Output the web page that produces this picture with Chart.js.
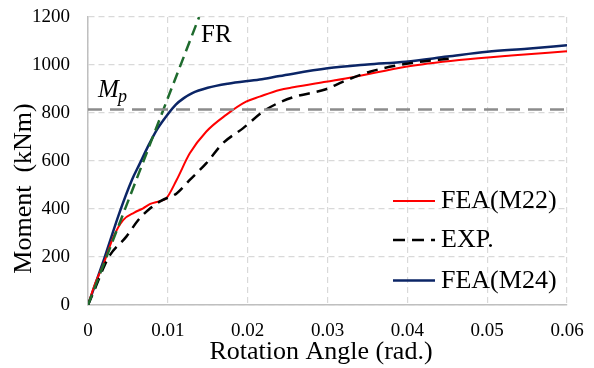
<!DOCTYPE html>
<html>
<head>
<meta charset="utf-8">
<script src="https://cdn.jsdelivr.net/npm/chart.js@4.4.1/dist/chart.umd.min.js"></script>
<style>
  html, body { margin: 0; padding: 0; background: #fff; }
  #wrap { width: 594px; height: 368px; }
</style>
</head>
<body>
<div id="wrap"><canvas id="momentChart" width="594" height="368"></canvas></div>
<script>
// FEA (M22)
const m22Rot    = [0, 0.0009, 0.0019, 0.0032, 0.0044, 0.0058, 0.0069, 0.0078, 0.009, 0.0098, 0.0111, 0.01275, 0.0148, 0.0173, 0.0198, 0.0215, 0.024, 0.0257, 0.0298, 0.0332, 0.0398, 0.0465, 0.053, 0.06];
const m22Moment = [0, 90, 167, 285, 354, 385, 403, 421, 433, 444, 521, 632, 722, 792, 847, 868, 896, 907, 930, 949, 993, 1021, 1040, 1057];

// EXP.
const expRot    = [0, 0.0009, 0.0021, 0.00275, 0.0048, 0.0063, 0.0078, 0.0092, 0.0111, 0.01275, 0.0148, 0.0169, 0.0194, 0.0219, 0.0236, 0.0257, 0.0298, 0.0319, 0.0353, 0.0403, 0.0457];
const expMoment = [0, 70, 167, 208, 285, 354, 403, 435, 465, 521, 590, 674, 736, 805, 838, 866, 899, 930, 972, 1007, 1028];

// FEA (M24)
const m24Rot    = [0, 0.002, 0.004, 0.0055, 0.0065, 0.0075, 0.0086, 0.01, 0.011, 0.012, 0.013, 0.015, 0.0175, 0.0215, 0.024, 0.03, 0.035, 0.0398, 0.045, 0.05, 0.055, 0.06];
const m24Moment = [0, 190, 390, 521, 590, 660, 729, 795, 835, 862, 882, 905, 922, 940, 954, 986, 1002, 1014, 1035, 1055, 1068, 1082];

// FR boundary and plastic moment
const frRot    = [0, 0.01392];
const frMoment = [0, 1200];
const mpRot    = [0, 0.06];
const mpMoment = [815, 815];

const pts = (xs, ys) => xs.map((x, i) => ({ x: x, y: ys[i] }));

const SERIF = '"Liberation Serif", "Times New Roman", serif';

const legendItems = [
    { label: 'FEA(M22)', color: '#ff0000', dash: [], width: 2, y: 201 },
    { label: 'EXP.', color: '#000000', dash: [12, 7], width: 2.5, y: 240 },
    { label: 'FEA(M24)', color: '#0b2566', dash: [], width: 2.5, y: 280.5 }
];

// axis titles, legend, FR and Mp labels
const labelPlugin = {
    id: 'labels',
    afterDraw: (chart) => {
        const ctx = chart.ctx;
        ctx.save();
        ctx.fillStyle = '#000';
        ctx.textBaseline = 'middle';

        // legend
        ctx.font = '26px ' + SERIF;
        ctx.textAlign = 'left';
        legendItems.forEach((item) => {
            ctx.beginPath();
            ctx.setLineDash(item.dash);
            ctx.strokeStyle = item.color;
            ctx.lineWidth = item.width;
            ctx.moveTo(393, item.y);
            ctx.lineTo(435, item.y);
            ctx.stroke();
            ctx.setLineDash([]);
            ctx.fillText(item.label, 441, item.y + 0.5);
        });

        // axis titles
        ctx.textAlign = 'center';
        ctx.fillText('Rotation Angle (rad.)', 321, 352.5);
        ctx.save();
        ctx.translate(24, 188.5);
        ctx.rotate(-Math.PI / 2);
        ctx.fillText('Moment  (kNm)', 0, 0);
        ctx.restore();

        // FR label
        ctx.textAlign = 'left';
        ctx.textBaseline = 'alphabetic';
        ctx.font = '25px ' + SERIF;
        ctx.fillText('FR', 201, 41.5);

        // Mp label
        ctx.font = 'italic 25px ' + SERIF;
        ctx.fillText('M', 98, 96.5);
        ctx.font = 'italic 18px ' + SERIF;
        ctx.fillText('p', 118, 102);

        ctx.restore();
    }
};

const ctx = document.getElementById('momentChart').getContext('2d');
const myChart = new Chart(ctx, {
    type: 'line',
    data: {
        datasets: [
            {
                label: 'Mp',
                data: pts(mpRot, mpMoment),
                borderColor: '#8c8c8c',
                borderWidth: 2.5,
                borderDash: [14, 8],
                pointRadius: 0,
                tension: 0
            },
            {
                label: 'FR',
                data: pts(frRot, frMoment),
                borderColor: '#1f6b2e',
                borderWidth: 2.5,
                borderDash: [11, 6],
                pointRadius: 0,
                tension: 0
            },
            {
                label: 'EXP.',
                data: pts(expRot, expMoment),
                borderColor: '#000000',
                borderWidth: 2.5,
                borderDash: [11, 7],
                pointRadius: 0,
                cubicInterpolationMode: 'monotone'
            },
            {
                label: 'FEA(M22)',
                data: pts(m22Rot, m22Moment),
                borderColor: '#ff0000',
                borderWidth: 2,
                pointRadius: 0,
                cubicInterpolationMode: 'monotone'
            },
            {
                label: 'FEA(M24)',
                data: pts(m24Rot, m24Moment),
                borderColor: '#0b2566',
                borderWidth: 2.5,
                pointRadius: 0,
                cubicInterpolationMode: 'monotone'
            }
        ]
    },
    options: {
        responsive: false,
        animation: false,
        layout: { padding: { top: 17, right: 27, left: 0, bottom: 0 } },
        plugins: {
            legend: { display: false },
            tooltip: { enabled: false }
        },
        scales: {
            x: {
                type: 'linear',
                min: 0,
                max: 0.06,
                afterFit: (scale) => {
                    scale.height = 63;
                    scale.paddingLeft = 0;
                    scale.paddingRight = 0;
                },
                ticks: {
                    stepSize: 0.01,
                    padding: 15,
                    color: '#000',
                    font: { family: SERIF, size: 19 },
                    callback: (v) => v === 0 ? '0' : v.toFixed(2)
                },
                grid: { color: '#d9d9d9', lineWidth: 1.2, drawTicks: false },
                border: { display: true, color: '#bfbfbf', width: 1.5, dash: [6, 4] }
            },
            y: {
                min: 0,
                max: 1200,
                afterFit: (scale) => {
                    scale.width = 88;
                    scale.paddingTop = 0;
                    scale.paddingBottom = 0;
                },
                ticks: {
                    stepSize: 200,
                    padding: 18,
                    color: '#000',
                    font: { family: SERIF, size: 19 },
                    callback: (v) => String(v)
                },
                grid: { color: '#d9d9d9', lineWidth: 1.2, drawTicks: false },
                border: { display: true, color: '#bfbfbf', width: 1.5, dash: [6, 4] }
            }
        }
    },
    plugins: [labelPlugin]
});
</script>
</body>
</html>
